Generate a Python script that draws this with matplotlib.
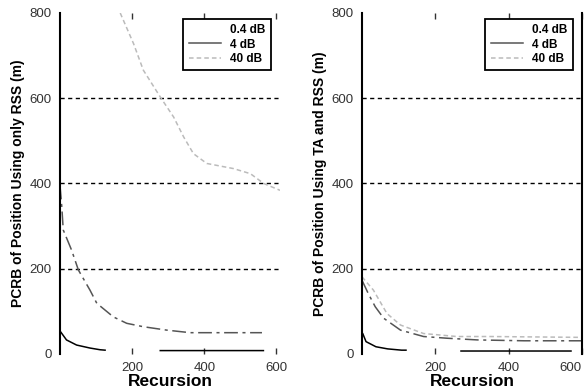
import numpy as np
import matplotlib.pyplot as plt

# values (x = recursion, y = PCRB in m)
labels = ["0.4 dB", "4 dB", "40 dB"]

# left panel: using only RSS
rss_x_04 = [0, 18, 46, 83, 111, 125, 200, 278, 564]
rss_y_04 = [54, 33, 21, 14, 10, 9, np.nan, 8, 8]
rss_x_4 = [0, 5, 9, 32, 51, 83, 102, 148, 185, 231, 296, 361, 560]
rss_y_4 = [395, 345, 291, 244, 197, 150, 119, 87, 72, 64, 56, 50, 50]
rss_x_40 = [167, 204, 231, 278, 315, 343, 370, 407, 481, 528, 565, 610]
rss_y_40 = [800, 728, 666, 603, 556, 509, 470, 447, 435, 423, 400, 384]

# right panel: using TA and RSS
ta_x_04 = [0, 2, 11, 38, 70, 108, 120, 200, 270, 570]
ta_y_04 = [50, 48, 29, 17, 12, 9, 9, np.nan, 7, 7]
ta_x_4 = [0, 17, 36, 59, 105, 168, 232, 315, 443, 600]
ta_y_4 = [173, 142, 111, 84, 56, 41, 37, 33, 31, 31]
ta_x_40 = [0, 31, 68, 105, 168, 259, 350, 600]
ta_y_40 = [181, 150, 95, 68, 48, 41, 41, 39]

grid_levels = [200, 400, 600]
yticks = [0, 200, 400, 600, 800]
xticks = [200, 400, 600]

plt.rcParams['font.family'] = ['Liberation Sans', 'DejaVu Sans']

fig = plt.figure(figsize=(5.86, 3.92), dpi=100)
ax1 = fig.add_axes([60 / 586, 1 - 354 / 392, 220 / 586, 341 / 392])
ax2 = fig.add_axes([362 / 586, 1 - 354 / 392, 220 / 586, 341 / 392])


def style_panel(ax, xmax, ylabel, right_spine):
    ax.set_xlim(0, xmax)
    ax.set_ylim(0, 800)
    for lev in grid_levels:
        ax.axhline(lev, color='black', lw=1.0, ls=(0, (3, 2.5)), zorder=1)
    ax.spines['top'].set_visible(False)
    ax.spines['bottom'].set_visible(False)
    ax.spines['right'].set_visible(right_spine)
    ax.spines['left'].set_linewidth(1.5)
    ax.spines['right'].set_linewidth(1.5)
    ax.set_xticks(xticks)
    ax.set_yticks(yticks)
    ax.tick_params(axis='x', direction='in', top=True, length=4, width=1,
                   labelsize=9.5, pad=6, colors='#333333')
    ax.tick_params(axis='y', length=0, labelsize=9.5, pad=6, colors='#333333')
    ax.set_xlabel("Recursion", fontsize=12.5, fontweight='bold', labelpad=0)
    ax.set_ylabel(ylabel, fontsize=10, fontweight='bold', labelpad=3)


def draw(ax, x04, y04, x4, y4, x40, y40):
    l1, = ax.plot(x04, y04, color='black', lw=1.1, label=labels[0])
    l2, = ax.plot(x4, y4, color='#555555', lw=1.1, ls=(0, (9, 3, 2, 3)),
                  label=labels[1])
    l3, = ax.plot(x40, y40, color='#bbbbbb', lw=1.1, ls=(0, (3, 2)),
                  label=labels[2])
    leg = ax.legend(handles=[l1, l2, l3], loc='upper right',
                    bbox_to_anchor=(0.985, 1.0), fancybox=False,
                    edgecolor='black', framealpha=1,
                    handlelength=2.7, borderpad=0.45, labelspacing=0.2,
                    prop={'weight': 'bold', 'size': 8.5})
    leg.get_frame().set_linewidth(1.3)
    leg.get_lines()[0].set_visible(False)
    leg.get_lines()[1].set_color('#555555')
    leg.get_lines()[1].set_linestyle('-')


style_panel(ax1, 610, "PCRB of Position Using only RSS (m)", False)
draw(ax1, rss_x_04, rss_y_04, rss_x_4, rss_y_4, rss_x_40, rss_y_40)
style_panel(ax2, 600, "PCRB of Position Using TA and RSS (m)", True)
draw(ax2, ta_x_04, ta_y_04, ta_x_4, ta_y_4, ta_x_40, ta_y_40)
# keep the last tick label of the right panel inside the figure
ax2.get_xticklabels()[-1].set_horizontalalignment('right')

fig.savefig("out.png", dpi=100)
